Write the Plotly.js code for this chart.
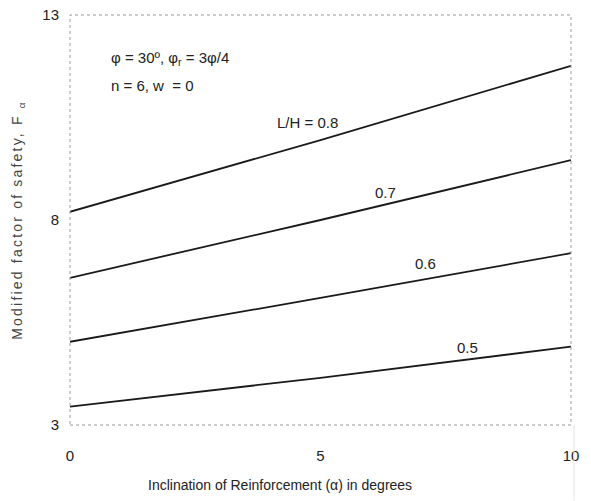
<!DOCTYPE html>
<html>
<head>
<meta charset="utf-8">
<script src="https://cdn.plot.ly/plotly-3.0.1.min.js"></script>
<style>html,body{margin:0;padding:0;background:#fff;}#chart{width:591px;height:501px;}
#chart .ytitle{letter-spacing:2.2px;}</style>
</head>
<body>
<div id="chart"></div>
<script>
var alpha = [0, 5, 10];
var fs08 = [8.20, 9.95, 11.76];
var fs07 = [6.59, 8.00, 9.46];
var fs06 = [5.03, 6.10, 7.19];
var fs05 = [3.45, 4.15, 4.91];
var seriesNames = ['L/H = 0.8', '0.7', '0.6', '0.5'];
var labelX = [4.75, 6.29, 7.09, 7.94];
var labelY = [10.37, 8.66, 6.95, 4.88];
var xTicks = [0, 5, 10];
var yTicks = [3, 8, 13];

var all = [fs08, fs07, fs06, fs05];
var font = 'Liberation Sans, Arial, sans-serif';
var traces = all.map(function (ys, i) {
  return {x: alpha, y: ys, mode: 'lines', type: 'scatter', name: seriesNames[i],
    line: {color: '#1a1a1a', width: 1.8}, hoverinfo: 'none'};
});

var annotations = seriesNames.map(function (n, i) {
  return {x: labelX[i], y: labelY[i], text: n, showarrow: false, xref: 'x', yref: 'y',
    font: {family: font, size: 15, color: '#222'}};
});
annotations.push({xref: 'paper', yref: 'paper', x: 0.078, y: 0.893, xanchor: 'left', yanchor: 'middle',
  text: 'φ = 30º, φ<sub>r</sub> = 3φ/4', showarrow: false, font: {family: font, size: 15, color: '#222'}});
annotations.push({xref: 'paper', yref: 'paper', x: 0.078, y: 0.829, xanchor: 'left', yanchor: 'middle',
  text: 'n = 6, w  = 0', showarrow: false, font: {family: font, size: 15, color: '#222'}});
annotations.push({xref: 'paper', yref: 'paper', x: 0.42, y: -0.147, xanchor: 'center', yanchor: 'middle',
  text: 'Inclination of Reinforcement (α) in degrees', showarrow: false,
  font: {family: font, size: 14, color: '#222'}});

var layout = {
  width: 591, height: 501,
  margin: {l: 70, r: 20, t: 15, b: 76},
  paper_bgcolor: '#fff', plot_bgcolor: '#fff',
  showlegend: false,
  xaxis: {range: [0, 10], tickvals: xTicks, ticktext: xTicks.map(String), showgrid: false, zeroline: false,
    showline: false, ticks: '', ticklabelstandoff: 20,
    tickfont: {family: font, size: 15, color: '#222'}},
  yaxis: {range: [3, 13], tickvals: yTicks, ticktext: yTicks.map(String), showgrid: false, zeroline: false,
    showline: false, ticks: '', ticklabelstandoff: 10,
    tickfont: {family: font, size: 15, color: '#222'},
    title: {text: 'Modified factor of safety, F <sub>α</sub>', font: {family: font, size: 14, color: '#444'}, standoff: 16}},
  shapes: [
    {type: 'rect', xref: 'paper', yref: 'paper', x0: 0, x1: 1, y0: 0, y1: 1,
      line: {color: '#999', width: 1, dash: 'dot'}},
    {type: 'line', xref: 'paper', yref: 'paper', x0: 1.006, x1: 1.006, y0: -0.185, y1: 0,
      line: {color: '#e4e4e4', width: 1}}
  ],
  annotations: annotations
};
Plotly.newPlot('chart', traces, layout, {staticPlot: true});
</script>
</body>
</html>
